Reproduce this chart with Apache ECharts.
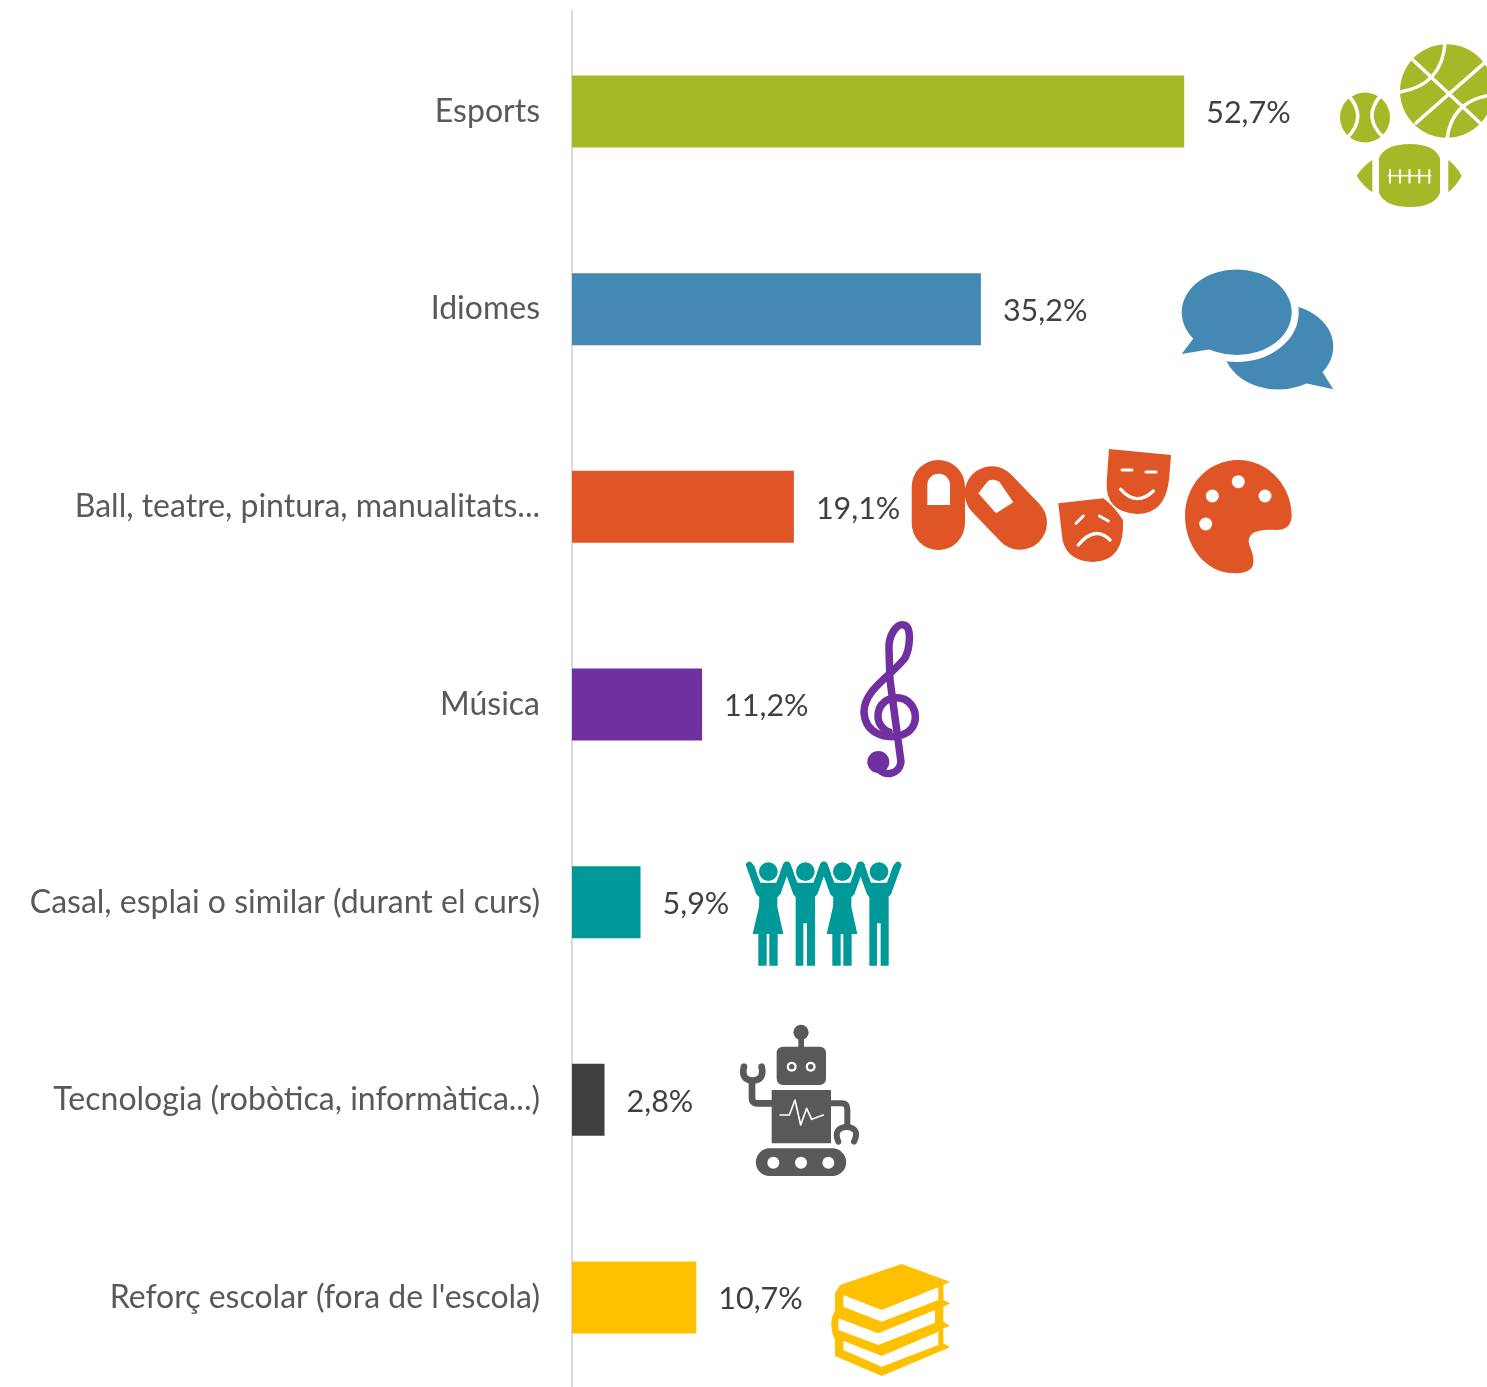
<!DOCTYPE html>
<html><head><meta charset="utf-8">
<style>html,body{margin:0;padding:0;background:#fff}#c{width:1487px;height:1387px}</style>
<script src="https://cdn.jsdelivr.net/npm/echarts@6/dist/echarts.min.js"></script>
</head><body><div id="c"></div>
<script>
const categories = ["Esports","Idiomes","Ball, teatre, pintura, manualitats...","Música","Casal, esplai o similar (durant el curs)","Tecnologia (robòtica, informàtica...)","Reforç escolar (fora de l'escola)"];
const values = [52.7,35.2,19.1,11.2,5.9,2.8,10.7];
const colors = ["#a6b727","#4389b3","#e05526","#70309f","#009999","#404040","#ffc000"];

const circ=(x,y,r)=>ell(x,y,r,r);
function ell(x,y,a,b){return `M${x-a},${y}A${a},${b},0,1,1,${x+a},${y}A${a},${b},0,1,1,${x-a},${y}Z`;}
const F=(d,fill)=>({d,fill});
const S=(d,stroke,w,fill)=>({d,stroke,w,fill:fill||null});
const W='#ffffff';
const G=colors[0],B=colors[1],O=colors[2],P=colors[3],T=colors[4],R='#595959',Y=colors[6];

const arms=c=>`M${c-68},44Q${c-60},28 ${c-50},38L${c-42},48L${c-24},98L${c+24},98L${c+42},48L${c+50},38Q${c+60},28 ${c+68},44L${c+36},133L${c+27},142`;
function woman(c){return arms(c)+`L${c+27},170L${c+45},252L${c+28},252L${c+28},347L${c+3},347L${c+3},252L${c-5},252L${c-5},347L${c-30},347L${c-30},252L${c-47},252L${c-28},170L${c-27},142L${c-36},133Z`;}
function man(c){return arms(c)+`L${c+29},142L${c+29},347L${c+5},347L${c+5},220L${c-6},220L${c-6},347L${c-29},347L${c-29},142L${c-36},133Z`;}

const icons = [
 {x:0,y:0,s:1,parts:[
  F(circ(1446.7,91,46.7),G),
  S('M1413,60L1480,123',W,3.5),S('M1490,58L1416,123',W,3.5),
  S('M1445,43Q1442,85 1400,92',W,3.5),S('M1492,95Q1452,100 1447,139',W,3.5),
  F(circ(1365,117.5,25),G),
  S('M1348,95Q1368,117 1347,138',W,3.5),S('M1381,95Q1362,117 1383,137',W,3.5),
  F('M1379,158Q1385,144 1410,144Q1434,144 1440,158L1440,193Q1434,207 1410,207Q1385,207 1379,193Z',G),
  F('M1372.3,160Q1362,167 1356.7,175.7Q1362,185 1372.3,192.3Z',G),
  F('M1448.3,160Q1457,167 1461.7,175.7Q1457,185 1448.3,192.3Z',G),
  S('M1388.3,175.7L1430.7,175.7',W,1.6),
  S('M1390,170L1390,182.7M1400,170L1400,182.7M1409.5,170L1409.5,182.7M1419.3,170L1419.3,182.7M1429.3,170L1429.3,182.7',W,2)
 ]},
 {x:0,y:0,s:1,parts:[
  F(ell(1278.3,346.7,55,42.7)+'',B),
  F('M1318,365L1333.3,389.3L1300,382Z',B),
  S(ell(1236.7,312.3,55,42.7),W,14,W),
  F(ell(1236.7,312.3,55,42.7),B),
  F('M1196,335L1181.7,354L1212,349Z',B)
 ]},
 {x:0,y:0,s:1,parts:[
  F('M911.7,486.7A26.65,26.65,0,0,1,965,486.7L965,523.3A26.65,26.65,0,0,1,911.7,523.3Z',O),
  F('M927.3,505L927.3,485A11.3,11.3,0,0,1,950,485L950,505Z',W),
  S('M991.7,493.3L1020,522.7',O,54),
  F('M978.3,493.3L988,481Q993,478 999.3,481.7L1013.3,502.3L996,513.3Z',W),
  F('M1109,449L1171,455L1169,480Q1165,514 1137,514Q1105,512 1106.7,482Z',O),
  S('M1122,470L1132,470',W,3),S('M1146,472L1156,472',W,3),
  S('M1120.7,489.3Q1136.7,507 1153.3,491',W,3.4),
  F('M1058.3,503.3L1103.3,498.3Q1113,505 1123,520Q1125,561 1093,562Q1063,561 1061.7,533Z',O),
  S('M1076,523.3L1083.3,516',W,3),S('M1099.3,516L1108.3,521',W,3),
  S('M1078.3,545Q1095,525 1110,540',W,3.4),
  F('M1238,460C1270,460 1292,488 1291.7,516Q1291,530 1276,530Q1246,528 1249,544Q1258,565 1249,570Q1243,574 1233,573C1205,573 1185,545 1185,516C1185,485 1208,460 1238,460Z',O),
  F(circ(1238.3,481.7,6.5),W),F(circ(1212.3,496,6.5),W),F(circ(1265,496,6.5),W),F(circ(1205.7,524,6.5),W)
 ]},
 {x:0,y:0,s:1,parts:[
  F(circ(878.3,762,11),P),
  S('M878,768C884,777 899,775 901,762L890,680L889,650C888,635 897,623 904,625C912,627 910,648 905,658C890,677 864,690 864,712C865,733 885,740 902,735C920,729 919,706 904,699C888,694 877,705 878,718C879,725 884,730 889,732',P,7.5)
 ]},
 {x:730,y:850,s:1/3,parts:[
  F(woman(115),T),F(man(226),T),F(woman(337),T),F(man(447),T),
  S(circ(115,65,31),W,6,T),S(circ(226,65,31),W,6,T),S(circ(337,65,31),W,6,T),S(circ(447,65,31),W,6,T)
 ]},
 {x:730,y:850,s:1/3,parts:[
  F(circ(213,547,23),R),F('M205,560L222,560L222,600L205,600Z',R),
  F('M160,590L268,590Q288,590 288,610L288,685Q288,705 268,705L160,705Q140,705 140,685L140,610Q140,590 160,590Z',R),
  F(circ(185,650,15),W),F(circ(185,650,8),R),F(circ(242,650,15),W),F(circ(242,650,8),R),
  F('M125,720L303,720L303,880L125,880Z',R),
  S('M125,760L80,760Q66,760 66,745L66,695',R,20),
  S('M42,650Q32,690 68,692Q104,690 95,650',R,20),
  S('M303,760L335,760Q352,760 352,778L352,825',R,18),
  S('M325,875Q308,835 350,830Q392,835 372,875',R,18),
  S('M150,795L178,795L195,750L212,825L230,775L245,808L280,795',W,5),
  F('M119,895L307,895A41.5,41.5,0,0,1,307,978L119,978A41.5,41.5,0,0,1,119,895Z',R),
  F(circ(130,938,18),W),F(circ(213,938,18),W),F(circ(295,938,18),W)
 ]},
 {x:800,y:1250,s:1/3,parts:[
  F('M305,42L450,95L430,105L430,150L450,160L430,170L430,215L450,228L430,235L430,280L450,292L245,378L105,318L105,270Q90,240 95,205L105,180L105,130L120,105Z',Y),
  F('M130,135L245,180L415,112L415,150L245,215L130,170Z',W),
  F('M115,205L235,250L405,180L405,218L235,285L115,240Z',W),
  F('M130,272L245,318L415,245L415,285L245,350L130,300Z',W)
 ]},
 {x:0,y:0,s:1,parts:[F('M571,10L573,10L573,20L571,20Z','#d9d9d9')]}
];

const chart = echarts.init(document.getElementById('c'),null,{renderer:'canvas'});
const font='Lato';
chart.setOption({
 animation:false,
 grid:{left:572,top:12.67,width:697,height:1383.7,outerBoundsMode:'none'},
 xAxis:{type:'value',min:0,max:60,show:false},
 yAxis:{type:'category',inverse:true,data:categories,offset:1,
  axisLine:{show:true,lineStyle:{color:'#d9d9d9',width:2}},
  axisTick:{show:false},
  axisLabel:{margin:31,fontFamily:font,fontSize:32,color:'#595959',padding:[0,0,6,0]}},
 series:[
  {type:'bar',barWidth:72,z:3,
   data:values.map((v,i)=>({value:v,itemStyle:{color:colors[i]}})),
   label:{show:true,position:'right',distance:22,offset:[0,2],fontFamily:font,fontSize:30.5,color:'#404040',
     formatter:p=>p.value.toFixed(1).replace('.',',')+'%'}},
  {type:'custom',coordinateSystem:'none',silent:true,clip:false,z:5,
   data:icons.map((_,i)=>i),
   renderItem:(params)=>{
     const ic=icons[params.dataIndex];
     return {type:'group',x:ic.x,y:ic.y,scaleX:ic.s,scaleY:ic.s,
       children:ic.parts.map(p=>({type:'path',shape:{pathData:p.d},
         style:{fill:p.fill||'none',stroke:p.stroke||'none',lineWidth:p.w||0,lineCap:'round',lineJoin:'round'}}))};
   }}
 ]
});
</script></body></html>
